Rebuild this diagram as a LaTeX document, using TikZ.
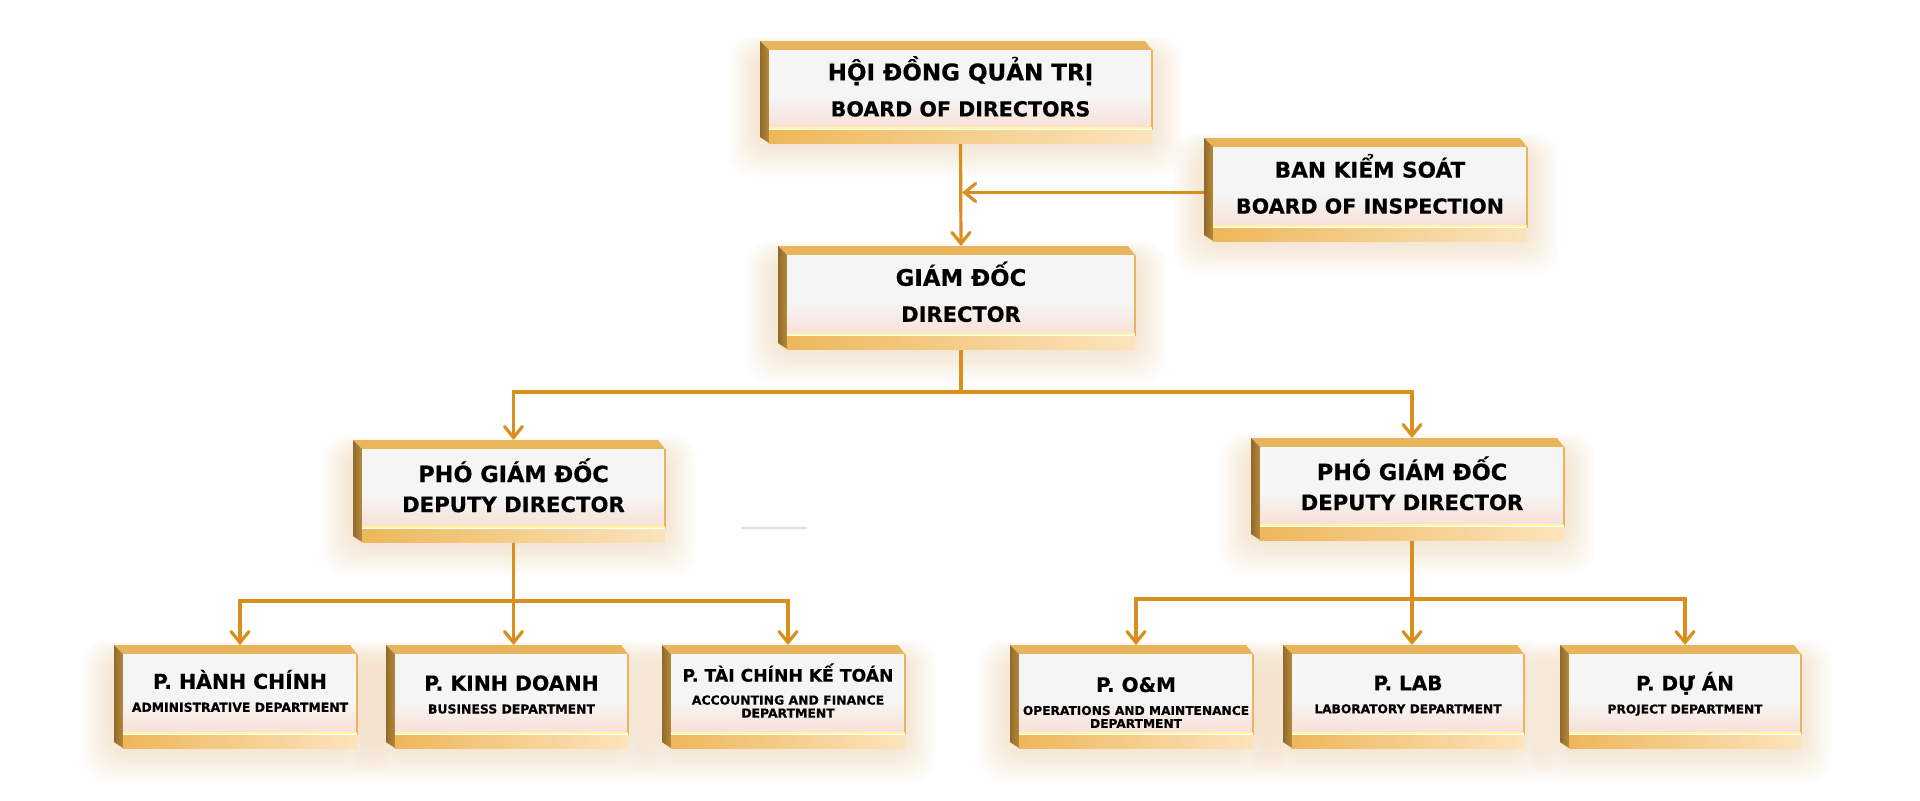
\documentclass[tikz,border=0pt]{standalone}
\usepackage{fontspec}
\setmainfont{DejaVu Sans}[BoldFeatures={FakeBold=0.5}]
\usetikzlibrary{arrows.meta,calc}
\definecolor{connc}{HTML}{D98E1D}
\definecolor{topface}{HTML}{E8B45C}
\definecolor{leftface}{HTML}{B68A3A}
\definecolor{leftfaceD}{HTML}{8F6A2A}
\definecolor{frontT}{HTML}{F5F5F5}
\definecolor{frontB}{HTML}{F9E0D6}
\definecolor{stripL}{HTML}{EDB75A}
\definecolor{stripR}{HTML}{FBE4BD}
\definecolor{hilite}{HTML}{FFF6A0}
\definecolor{glowc}{HTML}{F6A868}
\pgfdeclarelayer{bg}
\pgfdeclarelayer{glow}
\pgfdeclarelayer{lines}
\pgfsetlayers{bg,glow,lines,main}
\newcommand\Ln[2]{{\fontsize{#1}{#1}\selectfont #2}}
% #1 text style, #2 name, #3 x1, #4 y1, #5 x2, #6 y2, #7 text
\newcommand\gbox[7][]{%
  \begin{pgfonlayer}{glow}
    \foreach \g in {1,...,12}{
      \fill[glowc,opacity=0.022,rounded corners=12pt]
        (#3-\g*2.6,#4+10-\g*1.2) rectangle (#5+\g*2.6,#6+\g*2.8);}
  \end{pgfonlayer}
  \fill[topface] (#3,#4) -- (#5-7,#4) -- (#5,#4+9) -- (#3+9,#4+9) -- cycle;
  \shade[left color=leftfaceD,right color=leftface]
    (#3,#4) -- (#3+9,#4+9) -- (#3+9,#6) -- (#3,#6-6) -- cycle;
  \fill[frontT] (#3+9,#4+9) rectangle (#5,#6-15);
  \shade[top color=frontT,bottom color=frontB] ({#3+9},{#6-15-0.4*(#6-#4-24)}) rectangle (#5,#6-15);
  \draw[topface,line width=1pt] (#5-0.5,#4+9) -- (#5-0.5,#6-13);
  \fill[hilite] (#3+9,#6-16) rectangle (#5,#6-14);
  \fill[white] (#3+9,#6-14) rectangle (#5,#6-12.5);
  \shade[left color=stripL,right color=stripR] (#3+9,#6-12.5) rectangle (#5,#6);
  \pgfmathsetmacro\bw{(#5-#3-9)*0.5}
  \pgfmathsetmacro\bh{(#6-#4)*0.5}
  \node[boxarea,minimum width=\bw pt,minimum height=\bh pt] (#2) at ({(#3+9+#5)/2},{(#4+#6)/2}) {};
  \node[boxtext,#1] (#2-t) at (#2.center) {#7};
}
\tikzset{
  boxarea/.style={inner sep=0pt,outer sep=0pt},
  boxtext/.style={inner sep=0pt,align=center,text=black,font=\bfseries},
  topt/.style={font=\bfseries\fontsize{11}{18}\selectfont,yshift=2.8pt},
  dept/.style={font=\bfseries\fontsize{11}{15}\selectfont,yshift=2.8pt},
  bott/.style={font=\bfseries\fontsize{10}{11.5}\selectfont},
  conn/.style={draw=connc,line width=1.6pt,line cap=round,
    -{Straight Barb[length=5.5pt,width=9pt,line cap=round]}},
}
\begin{document}
\begin{tikzpicture}[x=0.5pt,y=-0.5pt]
\begin{pgfonlayer}{bg}
\fill[white] (0,0) rectangle (1920,800);
\end{pgfonlayer}
\useasboundingbox (0,0) rectangle (1920,800);

\gbox[topt]{hdqt}{760}{41}{1152}{143}{\Ln{11.5}{HỘI ĐỒNG QUẢN TRỊ}\\\Ln{10.3}{BOARD OF DIRECTORS}}
\gbox[topt]{bks}{1204}{138}{1527}{241}{\Ln{10.8}{BAN KIỂM SOÁT}\\\Ln{10.3}{BOARD OF INSPECTION}}
\gbox[topt]{gd}{778}{246}{1135}{349}{\Ln{11.4}{GIÁM ĐỐC}\\\Ln{10.5}{DIRECTOR}}
\gbox[dept]{dpl}{353}{440}{665}{542}{\Ln{11.2}{PHÓ GIÁM ĐỐC}\\\Ln{10.6}{DEPUTY DIRECTOR}}
\gbox[dept]{dpr}{1251}{438}{1564}{540}{\Ln{11.2}{PHÓ GIÁM ĐỐC}\\\Ln{10.6}{DEPUTY DIRECTOR}}
\gbox[bott,yshift=2.8pt]{hc}{114}{645}{357}{748}{\Ln{10.2}{P. HÀNH CHÍNH}\\\Ln{6.2}{ADMINISTRATIVE DEPARTMENT}}
\gbox[bott,yshift=1pt]{kd}{386}{645}{628}{748}{\Ln{10.2}{P. KINH DOANH}\\\Ln{6.2}{BUSINESS DEPARTMENT}}
\gbox[bott,yshift=3pt]{tc}{662}{645}{905}{748}{\Ln{8.6}{P. TÀI CHÍNH KẾ TOÁN}\\\Ln{6.2}{ACCOUNTING AND FINANCE}\\[-5pt]\Ln{6.2}{DEPARTMENT}}
\gbox[bott,yshift=-3pt]{om}{1010}{645}{1253}{748}{\Ln{10}{P. O\&M}\\\Ln{6.1}{OPERATIONS AND MAINTENANCE}\\[-5pt]\Ln{6.1}{DEPARTMENT}}
\gbox[bott,yshift=1pt]{lab}{1283}{645}{1524}{748}{\Ln{10}{P. LAB}\\\Ln{6.1}{LABORATORY DEPARTMENT}}
\gbox[bott,yshift=1.3pt]{da}{1560}{645}{1801}{748}{\Ln{10}{P. DỰ ÁN}\\\Ln{6.1}{PROJECT DEPARTMENT}}

\coordinate (j1) at (961,392);
\coordinate (j2) at (513,601);
\coordinate (j3) at (1412,599);

\begin{pgfonlayer}{lines}
\draw[conn] (hdqt.south) -- (gd.north);
\draw[conn,shorten >=0.8pt] ([yshift=-1.5pt]bks.west) -- ([yshift=-1.5pt]bks.west -| hdqt.south);
\draw[conn] (gd.south) -- (gd.south |- j1) -| (dpl.north);
\draw[conn] (gd.south |- j1) -| (dpr.north);
\draw[conn] (dpl.south) -- (dpl.south |- j2) -| (hc.north);
\draw[conn] (dpl.south |- j2) -| (tc.north);
\draw[conn] (dpl.south) -- (dpl.south |- kd.north);
\draw[conn] (dpr.south) -- (dpr.south |- j3) -| (om.north);
\draw[conn] (dpr.south |- j3) -| (da.north);
\draw[conn] (dpr.south) -- (dpr.south |- lab.north);
\end{pgfonlayer}

\draw[black!12,line width=0.6pt] (741,528) -- (807,528);
\end{tikzpicture}
\end{document}
